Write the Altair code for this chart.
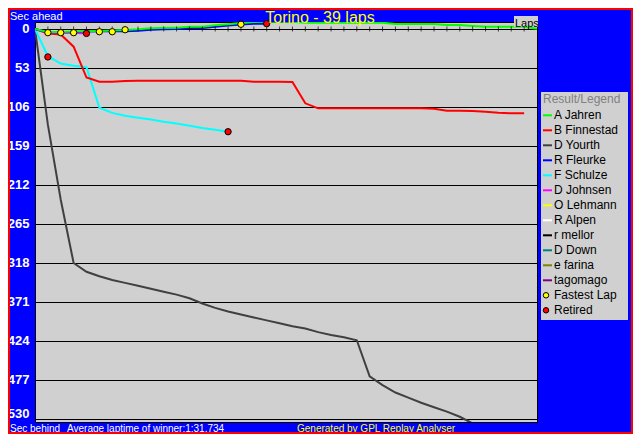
import altair as alt
import pandas as pd

# ---------------- data ----------------
drivers = ["A Jahren", "B Finnestad", "D Yourth", "R Fleurke", "F Schulze", "D Johnsen",
           "O Lehmann", "R Alpen", "r mellor", "D Down", "e farina", "\u00a0\u00a0tagomago"]
driver_colors = ["#00ff00", "#ff0000", "#404040", "#0000ff", "#00ffff", "#ff00ff",
                 "#ffff00", "#ffffff", "#000000", "#008080", "#808000", "#800080"]

# seconds behind (positive) / ahead (negative) of the winner's average pace, per lap
jahren = [0, 4, 4, 3.4, 3, 2.6, 2, 1.4, 0.5, -1, -1.8, -1.8, -3.1, -3.1, -5, -6.5, -8.2,
          -9.5, -9.9, -9.9, -9.9, -8.6, -8.6, -8.6, -8.6, -8.6, -8.6, -8.6, -6.8, -6.8,
          -6.8, -6.8, -5.4, -5.4, -4.1, -3.1, -3.1, -3.1, -3.1, -0.4]
finnestad = [0, 6, 7.5, 24, 66, 71.6, 71.6, 70.7,
             70.5, 70.5, 70.5, 70.5, 70.5, 70.5, 70.5, 70.5, 70.5,
             71.6, 71.6, 71.6, 72, 101,
             107.8, 107.8, 107.8, 107.8, 107.8, 107.8, 107.8, 107.8, 107.8,
             108.5, 111, 111, 111.5, 112.4, 113.8, 114.6, 114.6]
yourth = [0, 130, 232, 318, 330, 336, 341, 345, 349, 353, 357, 361, 366, 373, 379, 384,
          388, 392, 396, 400, 404, 407, 412, 416, 419, 423, 472, 484, 494, 501, 508, 514,
          520, 527, 536, 545]
fleurke = [0, 4.5, 4.5, 4, 3.5, 3.2, 2.8, 3, 2.5, 1, 0.3, 0, -1.2, -1.2, -3, -4.6, -6.2,
           -7.2, -7.2]
schulze = [0, 37, 47, 50, 52, 107, 114, 118, 120.5, 123, 126, 128.5, 131.5, 134.5, 137, 139.6]
johnsen = [0, 5, 5, 5, 6]

fastest_laps = [1, 2, 3, 5, 6, 7, 16]
fastest_secs = [5, 5, 5, 3.7, 3.7, 1, -6.4]
retired_laps = [1, 4, 15, 18]
retired_secs = [38, 6, 139.6, -7.2]

y_ticks = [0, 53, 106, 159, 212, 265, 318, 371, 424, 477, 530]
tick_laps = list(range(1, 39))
marker_names = ["Fastest Lap", "Retired"]
marker_colors = ["#ffff00", "#ff0000"]

title_text = "Torino - 39 laps"
# ------------------------------------------------------------

FONT = "Liberation Sans"

X = alt.X("lap:Q", scale=alt.Scale(domain=[0, 39], nice=False, zero=False), axis=None)
Y = alt.Y("sec:Q",
          scale=alt.Scale(domain=[-9.51, 534.1], reverse=True, nice=False, zero=False),
          axis=alt.Axis(values=y_ticks, title=None, grid=True, gridColor="black",
                        gridOpacity=1, gridWidth=1, domain=False, ticks=False,
                        labelColor="white", labelFont=FONT, labelFontWeight="bold",
                        labelFontSize=13, labelPadding=6, labelOverlap=False,
                        labelFlush=False,
                        labelOffset={"condition": {"test": "datum.value >= 530",
                                                   "value": -5},
                                     "value": 0}))

series = {
    "D Yourth": yourth,
    "F Schulze": schulze,
    "B Finnestad": finnestad,
    "D Johnsen": johnsen,
    "R Fleurke": fleurke,
    "A Jahren": jahren,
}
color_of = dict(zip(drivers, driver_colors))

layers = []
for name, vals in series.items():
    df = pd.DataFrame({"lap": list(range(len(vals))), "sec": vals})
    layers.append(alt.Chart(df).mark_line(color=color_of[name], strokeWidth=2, clip=True)
                  .encode(x=X, y=Y))

ticks_df = pd.DataFrame({"lap": tick_laps, "sec": [0] * len(tick_laps)})
layers.append(alt.Chart(ticks_df).mark_tick(orient="vertical", size=5, thickness=1,
                                            color="black").encode(x=X, y=Y))

fast_df = pd.DataFrame({"lap": fastest_laps, "sec": fastest_secs})
layers.append(alt.Chart(fast_df).mark_point(shape="circle", filled=True, fill="#ffff00",
                                            stroke="black", strokeWidth=1, size=40,
                                            opacity=1).encode(x=X, y=Y))
ret_df = pd.DataFrame({"lap": retired_laps, "sec": retired_secs})
layers.append(alt.Chart(ret_df).mark_point(shape="circle", filled=True, fill="#ff0000",
                                           stroke="black", strokeWidth=1, size=40,
                                           opacity=1).encode(x=X, y=Y))

one = pd.DataFrame({"k": [0]})

# "Laps" box
layers.append(alt.Chart(one).mark_rect(color="#d0d0d0").encode(
    x=alt.value(479), x2=alt.value(503), y=alt.value(-6), y2=alt.value(5)))
layers.append(alt.Chart(one).mark_text(text="Laps", font=FONT, fontSize=11, color="black",
                                       align="left", baseline="alphabetic").encode(
    x=alt.value(480), y=alt.value(4.5)))

# Legend box
legend_df = pd.DataFrame({"name": drivers, "color": driver_colors,
                          "row": list(range(len(drivers)))})
marker_df = pd.DataFrame({"name": marker_names, "color": marker_colors,
                          "row": [len(drivers) + i for i in range(len(marker_names))]})
LY = alt.Y("ly:Q", scale=None, axis=None)
layers.append(alt.Chart(one).mark_rect(color="#d0d0d0").encode(
    x=alt.value(506), x2=alt.value(593), y=alt.value(70), y2=alt.value(298)))
layers.append(alt.Chart(one).mark_text(text="Result/Legend", font=FONT, fontSize=12,
                                       color="#808080", align="left",
                                       baseline="alphabetic").encode(
    x=alt.value(508), y=alt.value(81)))
layers.append(alt.Chart(legend_df).transform_calculate(ly="93.3 + 15 * datum.row")
              .mark_rule(strokeWidth=2).encode(
    x=alt.value(508), x2=alt.value(517), y=LY,
    color=alt.Color("color:N", scale=None, legend=None)))
layers.append(alt.Chart(legend_df).transform_calculate(ly="93.3 + 15 * datum.row")
              .mark_text(font=FONT, fontSize=12, color="black", align="left",
                         baseline="middle").encode(
    x=alt.value(519), y=LY, text="name:N"))
layers.append(alt.Chart(marker_df).transform_calculate(ly="93.3 + 15 * datum.row")
              .mark_point(shape="circle", filled=True, stroke="black", strokeWidth=1,
                          size=30, opacity=1).encode(
    x=alt.value(511), y=LY, fill=alt.Fill("color:N", scale=None, legend=None)))
layers.append(alt.Chart(marker_df).transform_calculate(ly="93.3 + 15 * datum.row")
              .mark_text(font=FONT, fontSize=12, color="black", align="left",
                         baseline="middle").encode(
    x=alt.value(519), y=LY, text="name:N"))

# Titles and footer texts
layers.append(alt.Chart(one).mark_text(text=title_text, font=FONT, fontSize=16,
                                       color="#ffff00", align="center",
                                       baseline="alphabetic").encode(
    x=alt.value(285), y=alt.value(0.5)))
layers.append(alt.Chart(one).mark_text(text="Sec ahead", font=FONT, fontSize=11,
                                       color="white", align="left",
                                       baseline="alphabetic").encode(
    x=alt.value(-25), y=alt.value(-2.5)))
layers.append(alt.Chart(one).mark_text(text="Sec behind", font=FONT, fontSize=10,
                                       color="white", align="left",
                                       baseline="alphabetic").encode(
    x=alt.value(-25), y=alt.value(409.5)))
layers.append(alt.Chart(one).mark_text(text="Average laptime of winner:1:31.734",
                                       font=FONT, fontSize=10, color="white",
                                       align="left", baseline="alphabetic").encode(
    x=alt.value(32), y=alt.value(409.5)))
layers.append(alt.Chart(one).mark_text(text="Generated by GPL Replay Analyser",
                                       font=FONT, fontSize=10, color="#ffff00",
                                       align="left", baseline="alphabetic").encode(
    x=alt.value(262), y=alt.value(409.5)))

# red outer frame
layers.append(alt.Chart(one).mark_rect(filled=False, stroke="#ff0000", strokeWidth=2).encode(
    x=alt.value(-26), x2=alt.value(597), y=alt.value(-13), y2=alt.value(411)))

chart = alt.layer(*layers).properties(
    width=502, height=400,
    autosize=alt.AutoSizeParams(type="none"),
    padding={"left": 27, "top": 14, "right": 96, "bottom": 12},
    background="#0000ff",
).configure_view(fill="#d0d0d0", stroke="black", strokeWidth=1)

chart.save("out.html", embed_options={"renderer": "svg", "actions": False})
